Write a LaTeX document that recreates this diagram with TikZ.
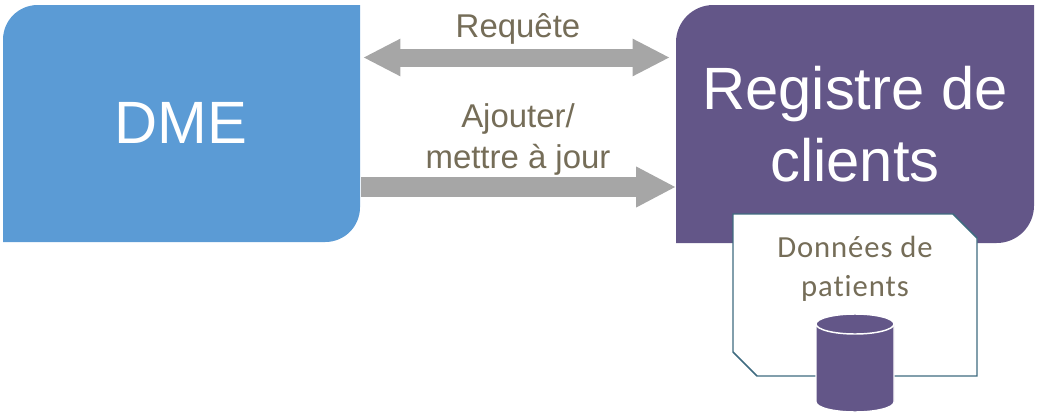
\documentclass[tikz,border=0pt]{standalone}
\usepackage{fontspec}
\setmainfont{Liberation Sans}
\newfontfamily\notefont[LetterSpace=3,Ligatures=NoCommon]{Carlito}
\usetikzlibrary{arrows.meta}
\definecolor{dmeblue}{HTML}{5B9BD5}
\definecolor{clientpurple}{HTML}{635688}
\definecolor{labelbrown}{HTML}{756D58}
\definecolor{noteline}{HTML}{3F6B80}
\definecolor{arrowgrey}{HTML}{A6A6A6}
\tikzset{
  boxlabel/.style={text=white,font=\fontsize{44.8}{54}\selectfont,align=center,inner sep=0pt},
  arrowlabel/.style={text=labelbrown,font=\fontsize{24.7}{31}\selectfont,align=center,inner sep=0pt},
  notelabel/.style={text=labelbrown,font=\notefont\fontsize{23}{29}\selectfont,align=center,inner sep=0pt},
  bigarrow/.style={draw=arrowgrey,line width=13.5pt}
}
\begin{document}
\begin{tikzpicture}[x=0.75pt,y=-0.75pt]
  \useasboundingbox (0,0) rectangle (1056,414);
  \fill[dmeblue,rounded corners=26pt] (3,242) [sharp corners] -- (3,242) [rounded corners=26pt] -- (3,5) [sharp corners] -- (360,5) [rounded corners=26pt] -- (360,242) [sharp corners] -- cycle;
  \fill[clientpurple,rounded corners=28pt] (676,243) [sharp corners] -- (676,243) [rounded corners=28pt] -- (676,5) [sharp corners] -- (1034,5) [rounded corners=28pt] -- (1034,243) [sharp corners] -- cycle;
  \filldraw[fill=white,draw=noteline,line width=1.1pt] (733,214) -- (953,214) -- (977,238) -- (977,376)
    -- (757,376) -- (733,352) -- cycle;
  \filldraw[fill=clientpurple,draw=white,line width=1.1pt] (816,324) -- (816,402)
    .. controls (816,407.5) and (833.5,412) .. (855,412) .. controls (876.5,412) and (894,407.5) .. (894,402)
    -- (894,324) .. controls (894,318.5) and (876.5,314) .. (855,314)
    .. controls (833.5,314) and (816,318.5) .. (816,324) -- cycle;
  \draw[white,line width=1.1pt] (816,324) .. controls (816,329.5) and (833.5,334) .. (855,334)
    .. controls (876.5,334) and (894,329.5) .. (894,324);
  \draw
    (181,123) node[boxlabel] (dme){DME}
    (855,124) node[boxlabel] (registre){Registre de\\clients}
    (518,29) node[arrowlabel] (requete){Requête}
    (518,139.5) node[arrowlabel] (ajouter){Ajouter/\\mettre à jour}
    (855,269) node[notelabel] (donnees){Données de\\patients}
    (363,57.5) coordinate (reqdme)
    (670,57.5) coordinate (reqregistre)
    (361,187) coordinate (majdme)
    (676,187) coordinate (majregistre);
  \begin{scope}[bigarrow]
    \draw[{Triangle[length=28pt,width=26pt]}-{Triangle[length=28pt,width=26pt]}] (reqdme) to (reqregistre);
    \draw[line width=15pt,-{Triangle[length=30pt,width=28.5pt]}] (majdme) to (majregistre);
  \end{scope}
\end{tikzpicture}
\end{document}
